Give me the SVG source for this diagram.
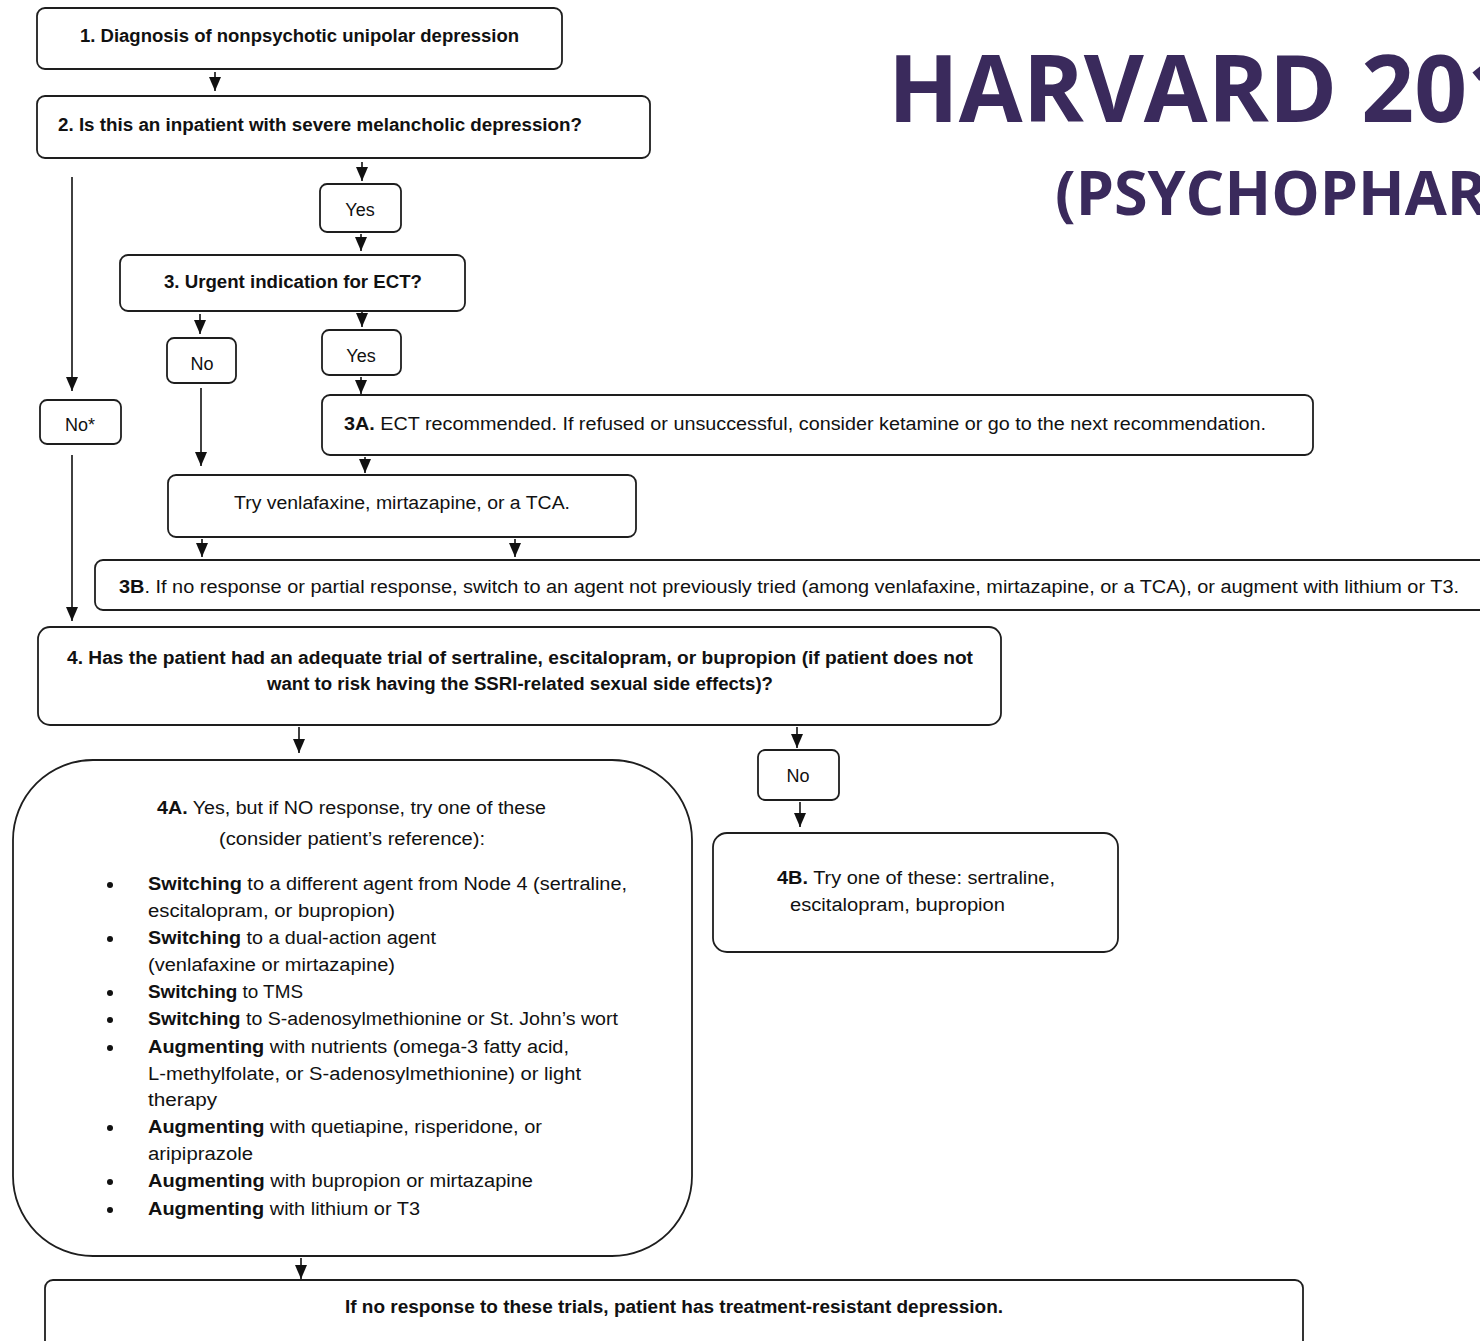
<svg xmlns="http://www.w3.org/2000/svg" width="1480" height="1341" viewBox="0 0 1480 1341">
<style>
.box{fill:#fff;stroke:#1e1e1e;stroke-width:1.8}
.t{font-family:"Liberation Sans",Arial,sans-serif;font-size:18px;fill:#111}
.b{font-weight:bold}
.title{font-family:"Open Sans","Liberation Sans",sans-serif;font-weight:bold;fill:#3a2a5c}
.c{stroke:#111;stroke-width:1.6;fill:none;marker-end:url(#ah)}
</style>
<defs>
<marker id="ah" markerUnits="userSpaceOnUse" markerWidth="14" markerHeight="12" viewBox="0 0 14 12" refX="14" refY="6" orient="auto">
<path d="M0,0 L14,6 L0,12 z" fill="#111"/>
</marker>
</defs>
<rect width="1480" height="1341" fill="#fff"/>

<g id="title">
<text class="title" x="888" y="122" font-size="94" textLength="632" lengthAdjust="spacingAndGlyphs">HARVARD 201</text>
<text class="title" x="1055" y="215" font-size="60" textLength="432" lengthAdjust="spacingAndGlyphs">(PSYCHOPHAR</text>
</g>

<g id="connectors">
<line class="c" x1="215" y1="72" x2="215" y2="91"/>
<line class="c" x1="362" y1="162" x2="362" y2="181"/>
<line class="c" x1="361" y1="234" x2="361" y2="251"/>
<line class="c" x1="200" y1="314" x2="200" y2="334"/>
<line class="c" x1="362" y1="312" x2="362" y2="327"/>
<line class="c" x1="361" y1="377" x2="361" y2="394"/>
<line class="c" x1="72" y1="177" x2="72" y2="391"/>
<line class="c" x1="72" y1="455" x2="72" y2="621"/>
<line class="c" x1="201" y1="388" x2="201" y2="466"/>
<line class="c" x1="365" y1="457" x2="365" y2="473"/>
<line class="c" x1="202" y1="539" x2="202" y2="557"/>
<line class="c" x1="515" y1="539" x2="515" y2="557"/>
<line class="c" x1="299" y1="727" x2="299" y2="753"/>
<line class="c" x1="797" y1="727" x2="797" y2="748"/>
<line class="c" x1="800" y1="802" x2="800" y2="827"/>
<line class="c" x1="301" y1="1258" x2="301" y2="1279"/>
</g>

<g id="n1">
<rect class="box" x="37" y="8" width="525" height="61" rx="8"/>
<text class="t b" x="80" y="42" textLength="439" lengthAdjust="spacingAndGlyphs">1. Diagnosis of nonpsychotic unipolar depression</text>
</g>
<g id="n2">
<rect class="box" x="37" y="96" width="613" height="62" rx="8"/>
<text class="t b" x="58" y="131" textLength="524" lengthAdjust="spacingAndGlyphs">2. Is this an inpatient with severe melancholic depression?</text>
</g>
<g id="yes1">
<rect class="box" x="320" y="184" width="81" height="48" rx="7"/>
<text class="t" x="360" y="216" text-anchor="middle">Yes</text>
</g>
<g id="n3">
<rect class="box" x="120" y="255" width="345" height="56" rx="8"/>
<text class="t b" x="164" y="288" textLength="258" lengthAdjust="spacingAndGlyphs">3. Urgent indication for ECT?</text>
</g>
<g id="no1">
<rect class="box" x="167" y="338" width="69" height="45" rx="7"/>
<text class="t" x="202" y="370" text-anchor="middle">No</text>
</g>
<g id="yes2">
<rect class="box" x="322" y="330" width="79" height="45" rx="7"/>
<text class="t" x="361" y="362" text-anchor="middle">Yes</text>
</g>
<g id="n3a">
<rect class="box" x="322" y="395" width="991" height="60" rx="8"/>
<text class="t" x="344" y="430" textLength="922" lengthAdjust="spacingAndGlyphs"><tspan class="b">3A.</tspan> ECT recommended. If refused or unsuccessful, consider ketamine or go to the next recommendation.</text>
</g>
<g id="nostar">
<rect class="box" x="40" y="400" width="81" height="44" rx="7"/>
<text class="t" x="80" y="431" text-anchor="middle">No*</text>
</g>
<g id="ntry">
<rect class="box" x="168" y="475" width="468" height="62" rx="8"/>
<text class="t" x="234" y="509" textLength="336" lengthAdjust="spacingAndGlyphs">Try venlafaxine, mirtazapine, or a TCA.</text>
</g>
<g id="n3b">
<rect class="box" x="95" y="560" width="1400" height="50" rx="8"/>
<text class="t" x="119" y="593" textLength="1340" lengthAdjust="spacingAndGlyphs"><tspan class="b">3B</tspan>. If no response or partial response, switch to an agent not previously tried (among venlafaxine, mirtazapine, or a TCA), or augment with lithium or T3.</text>
</g>
<g id="n4">
<rect class="box" x="38" y="627" width="963" height="98" rx="12"/>
<text class="t b" x="67" y="664" textLength="906" lengthAdjust="spacingAndGlyphs">4. Has the patient had an adequate trial of sertraline, escitalopram, or bupropion (if patient does not</text>
<text class="t b" x="267" y="690" textLength="506" lengthAdjust="spacingAndGlyphs">want to risk having the SSRI-related sexual side effects)?</text>
</g>
<g id="no2">
<rect class="box" x="758" y="750" width="81" height="50" rx="7"/>
<text class="t" x="798" y="782" text-anchor="middle">No</text>
</g>
<g id="n4b">
<rect class="box" x="713" y="833" width="405" height="119" rx="14"/>
<text class="t" x="777" y="884" textLength="278" lengthAdjust="spacingAndGlyphs"><tspan class="b">4B.</tspan> Try one of these: sertraline,</text>
<text class="t" x="790" y="911" textLength="215" lengthAdjust="spacingAndGlyphs">escitalopram, bupropion</text>
</g>
<g id="n4a">
<rect class="box" x="13" y="760" width="679" height="496" rx="80"/>
<text class="t" x="157" y="814" textLength="389" lengthAdjust="spacingAndGlyphs"><tspan class="b">4A.</tspan> Yes, but if NO response, try one of these</text>
<text class="t" x="219" y="845" textLength="266" lengthAdjust="spacingAndGlyphs">(consider patient’s reference):</text>
<g fill="#111">
<circle cx="110" cy="885" r="3"/>
<circle cx="110" cy="939" r="3"/>
<circle cx="110" cy="993" r="3"/>
<circle cx="110" cy="1020" r="3"/>
<circle cx="110" cy="1048" r="3"/>
<circle cx="110" cy="1128" r="3"/>
<circle cx="110" cy="1182" r="3"/>
<circle cx="110" cy="1210" r="3"/>
</g>
<text class="t" x="148" y="890" textLength="479" lengthAdjust="spacingAndGlyphs"><tspan class="b">Switching</tspan> to a different agent from Node 4 (sertraline,</text>
<text class="t" x="148" y="917" textLength="247" lengthAdjust="spacingAndGlyphs">escitalopram, or bupropion)</text>
<text class="t" x="148" y="944" textLength="288" lengthAdjust="spacingAndGlyphs"><tspan class="b">Switching</tspan> to a dual-action agent</text>
<text class="t" x="148" y="971" textLength="247" lengthAdjust="spacingAndGlyphs">(venlafaxine or mirtazapine)</text>
<text class="t" x="148" y="998" textLength="155" lengthAdjust="spacingAndGlyphs"><tspan class="b">Switching</tspan> to TMS</text>
<text class="t" x="148" y="1025" textLength="470" lengthAdjust="spacingAndGlyphs"><tspan class="b">Switching</tspan> to S-adenosylmethionine or St. John’s wort</text>
<text class="t" x="148" y="1053" textLength="421" lengthAdjust="spacingAndGlyphs"><tspan class="b">Augmenting</tspan> with nutrients (omega-3 fatty acid,</text>
<text class="t" x="148" y="1080" textLength="433" lengthAdjust="spacingAndGlyphs">L-methylfolate, or S-adenosylmethionine) or light</text>
<text class="t" x="148" y="1106" textLength="69" lengthAdjust="spacingAndGlyphs">therapy</text>
<text class="t" x="148" y="1133" textLength="394" lengthAdjust="spacingAndGlyphs"><tspan class="b">Augmenting</tspan> with quetiapine, risperidone, or</text>
<text class="t" x="148" y="1160" textLength="105" lengthAdjust="spacingAndGlyphs">aripiprazole</text>
<text class="t" x="148" y="1187" textLength="385" lengthAdjust="spacingAndGlyphs"><tspan class="b">Augmenting</tspan> with bupropion or mirtazapine</text>
<text class="t" x="148" y="1215" textLength="272" lengthAdjust="spacingAndGlyphs"><tspan class="b">Augmenting</tspan> with lithium or T3</text>
</g>
<g id="nfinal">
<rect class="box" x="45" y="1280" width="1258" height="80" rx="8"/>
<text class="t b" x="345" y="1313" textLength="658" lengthAdjust="spacingAndGlyphs">If no response to these trials, patient has treatment-resistant depression.</text>
</g>
</svg>
